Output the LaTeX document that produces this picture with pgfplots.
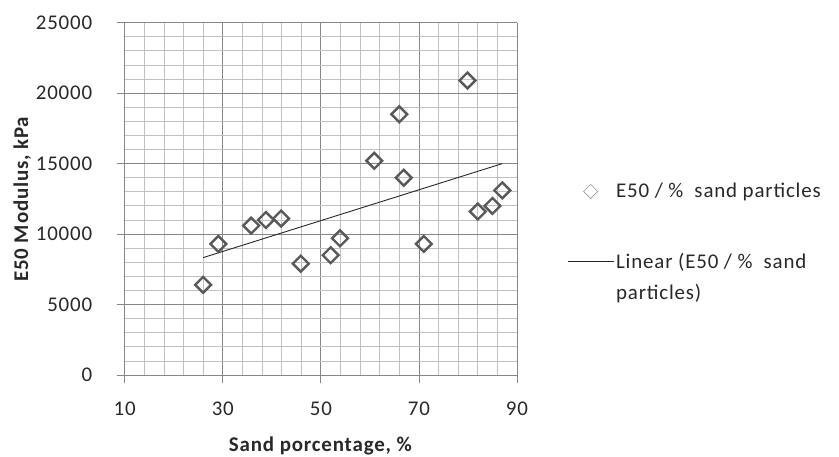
\documentclass[border=0pt]{standalone}
\usepackage{pgfplots}
\pgfplotsset{compat=1.18}
\usepackage{fontspec}
\setmainfont{Carlito}[LetterSpace=4]
\definecolor{majgrid}{RGB}{134,134,134}
\definecolor{mingrid}{RGB}{192,192,192}
\definecolor{mk}{RGB}{89,89,89}
\definecolor{txt}{RGB}{40,40,40}
\begin{document}
\begin{tikzpicture}
\useasboundingbox (0,0) rectangle (839bp,457bp);
\begin{axis}[
  at={(124.7bp,82bp)}, anchor=south west,
  scale only axis, width=392.3bp, height=352.3bp,
  xmin=10, xmax=90, ymin=0, ymax=25000,
  xtick={10,30,50,70,90}, ytick={0,5000,10000,15000,20000,25000},
  minor x tick num=4, minor y tick num=4,
  grid=both,
  major grid style={majgrid, line width=0.8pt},
  minor grid style={mingrid, line width=0.8pt},
  axis line style={majgrid, line width=0.8pt},
  tick style={majgrid, line width=0.8pt},
  major tick length=8bp, minor tick length=0pt,
  tick align=outside,
  xtick pos=bottom, ytick pos=left,
  axis x line*=bottom, axis y line*=left,
  scaled y ticks=false,
  /pgf/number format/assume math mode=true,
  /pgf/number format/1000 sep={},
  ticklabel style={font=\fontsize{21}{25}\selectfont, text=txt},
  xticklabel style={yshift=-15.5bp},
  yticklabel style={xshift=-21bp},
  xlabel={\textbf{Sand porcentage, \%}},
  ylabel={\textbf{E50 Modulus, kPa}},
  label style={font=\fontsize{21}{25}\selectfont, text=txt},
  xlabel style={yshift=-14bp},
  ylabel style={yshift=-2bp},
  legend style={draw=none, fill=none, at={(1.1275,0.55)}, anchor=north west,
    font=\fontsize{21}{31}\selectfont, text=txt, cells={align=left, anchor=west},
    row sep=50bp, inner sep=0pt},
  clip=false,
]
\addplot[only marks, mark=square, mark size=5.6bp,
  mark options={draw=mk, line width=2.4pt, fill=none, rotate=45},
  legend image code/.code={\draw[draw=gray!80, line width=0.6pt, mark=square, mark size=5bp, mark options={rotate=45}] plot coordinates {(23bp,0bp)};}]
 coordinates {
 (26.0,6400) (29.1,9300) (35.8,10600) (38.8,11000) (41.9,11100) (45.9,7900)
 (52.0,8500) (53.9,9700) (71.0,9300) (82.0,11600) (85.0,12000)
 (60.9,15200) (66.0,18500) (66.9,14000) (79.9,20900) (87.0,13100)
 };
\addlegendentry{E50 / \%\ \ sand particles}
\addplot[black!85, line width=0.9pt, no marks,
  legend image code/.code={\draw[black!85, line width=0.9pt] (0bp,15.5bp) -- (46bp,15.5bp);}]
  coordinates {(26,8330) (87,15000)};
\addlegendentry{Linear (E50 / \%\ \ sand\\particles)}
\end{axis}
\end{tikzpicture}
\end{document}
